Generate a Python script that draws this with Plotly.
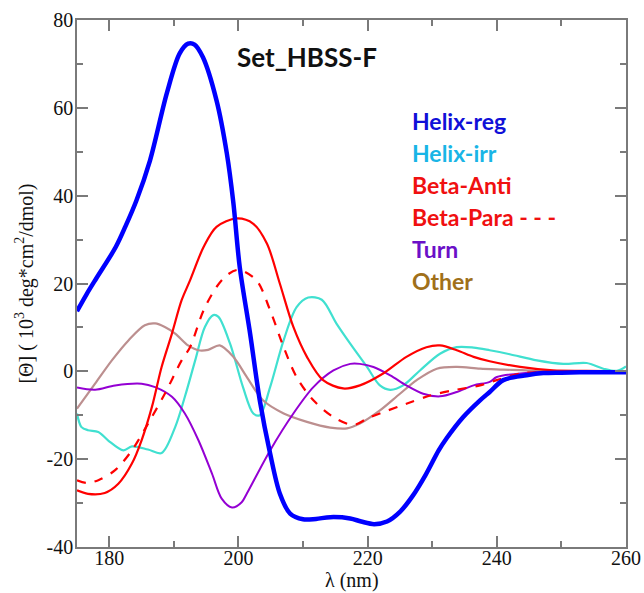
import plotly.graph_objects as go

# Wavelength grids (nm) and mean residue ellipticity (10^3 deg cm^2/dmol) per secondary-structure class
helix_reg_x = [175, 176.5, 178, 181, 182.5, 184.2, 186.3, 188.9, 190.9, 192.2, 193.2, 194.5, 196.6, 198.2,
               199.2, 200.2, 201.8, 203.3, 204.9, 206.4, 208, 210, 212, 214.2, 217.3, 219, 221, 223, 225,
               227, 229, 231, 232.2, 234.8, 237.4, 238.9, 241, 244.6, 247.2, 250, 255, 260]
helix_reg_y = [13.7, 17.6, 21.2, 28.3, 33.0, 38.9, 48.0, 63.3, 72.4, 74.6, 74.4, 71.5, 61.7, 49.6,
               38.5, 23.7, 8.6, -6.6, -18.7, -27.8, -32.4, -33.7, -33.6, -33.2, -33.5, -34.2, -34.8, -34.2, -32.0,
               -28.3, -23.5, -18.0, -15.3, -10.4, -6.6, -4.7, -2.0, -0.9, -0.4, -0.3, -0.2, -0.2]

helix_irr_x = [175, 175.7, 176.7, 178.3, 179.8, 182.2, 183.5, 186, 188.1, 190.2, 191.7, 193.3, 194.8, 196.1,
               196.9, 198.7, 200.7, 202.3, 203.3, 204.9, 207, 209, 210.8, 212.9, 215.2, 217.3, 219.9, 221.9,
               223.5, 225.5, 228.1, 231.2, 233.8, 236.4, 238.9, 242, 246.2, 250.3, 253.9, 256.5, 258.6, 260]
helix_irr_y = [-9.6, -12.7, -13.4, -13.8, -15.7, -18.0, -17.1, -17.8, -18.6, -12.7, -5.8, 2.5, 10.1, 12.8,
               12.4, 6.3, -3.6, -9.6, -10.0, -3.6, 7.1, 14.6, 16.8, 16.3, 10.8, 6.3, 1.0, -3.2,
               -4.2, -3.2, 0.2, 4.0, 5.5, 5.4, 4.8, 3.9, 2.5, 1.7, 1.9, 0.6, 0.1, 1.1]

beta_anti_x = [175, 176.7, 179.3, 181.4, 183.5, 185, 186.6, 188.1, 189.7, 191.2, 192.5, 194.6, 196.6, 199.7,
               202.3, 204.4, 206.4, 208.5, 210.6, 213.1, 216.2, 218.8, 222.4, 226, 229.1, 231.2, 233.8,
               236.4, 238.9, 243.6, 248.7, 253.9, 260]
beta_anti_y = [-27.1, -27.9, -27.7, -25.6, -21.0, -15.7, -8.1, 1.0, 8.6, 16.2, 20.7, 28.3, 32.9, 34.8,
               33.6, 29.1, 20.0, 10.1, 3.3, -2.0, -3.9, -3.2, -0.5, 3.3, 5.5, 5.9, 4.8,
               3.3, 2.3, 1.0, 0.2, 0.1, 0.0]

beta_para_x = [175, 176.5, 178.3, 180.9, 183.5, 186, 188.6, 191.2, 192.5, 194.6, 196.6, 198.3, 200, 202.8,
               204.9, 207, 209, 211.6, 214.7, 217.8, 220, 222.4, 226, 229.7, 233.3, 237.4, 240, 243.6,
               247, 252, 260]
beta_para_y = [-24.8, -25.4, -24.8, -22.5, -18.0, -11.9, -5.1, 2.5, 5.5, 13.9, 19.2, 22.0, 23.1, 20.7,
               13.9, 5.5, -1.3, -6.6, -10.4, -12.2, -10.7, -9.3, -7.4, -5.5, -4.3, -3.2, -2.0, -0.5,
               -0.2, -0.2, 0.0]

turn_x = [175, 177.8, 180.9, 185, 187.1, 189.7, 191.7, 193.8, 195.9, 197.4, 199, 200.5, 201.3, 204.9,
          208.5, 211.6, 214.7, 217.3, 218.8, 220.9, 223.5, 226, 228.6, 231.2, 233.8, 236.4, 238.9,
          240, 246.2, 252, 260]
turn_y = [-3.7, -4.2, -3.2, -2.8, -3.6, -5.8, -9.6, -15.7, -23.3, -29.0, -31.0, -29.8, -27.8, -18.0,
          -9.6, -3.6, 0.2, 1.7, 1.7, 1.0, -0.9, -3.2, -5.1, -5.7, -4.7, -3.2, -2.4,
          -1.3, -0.2, -0.1, 0.0]

other_x = [175, 177.8, 180.4, 183, 185.5, 187.1, 188.6, 190.2, 192.2, 193.8, 195.3, 197.1, 199.2, 201.3,
           203.8, 207, 210.6, 214.2, 216.8, 218.8, 221.9, 225, 227.6, 230.7, 233.8, 237.4, 241, 247,
           253, 260]
other_y = [-8.5, -2.8, 2.5, 7.1, 10.5, 10.9, 10.1, 8.6, 5.9, 4.8, 4.9, 5.9, 3.3, -1.3,
           -6.6, -9.6, -11.5, -12.8, -13.0, -11.9, -8.9, -5.1, -2.0, 0.6, 1.0, 0.6, 0.4, 0.1,
           0.0, 0.0]

# Legend entries drawn as coloured text
legend_labels = ["Helix-reg", "Helix-irr", "Beta-Anti", "Beta-Para - - -", "Turn", "Other"]
legend_colors = ["#1010d8", "#19b5e6", "#f01010", "#f01010", "#6b10c8", "#a0701a"]

x_ticks = [180, 200, 220, 240, 260]
y_ticks = [-40, -20, 0, 20, 40, 60, 80]

fig = go.Figure()

series = [
    (helix_irr_x, helix_irr_y, "#40e0d0", 2.2, "solid"),
    (other_x, other_y, "#bc8f8f", 2.2, "solid"),
    (turn_x, turn_y, "#9400d3", 2.0, "solid"),
    (beta_para_x, beta_para_y, "#ff0000", 2.2, "dash"),
    (beta_anti_x, beta_anti_y, "#ff0000", 2.2, "solid"),
    (helix_reg_x, helix_reg_y, "#0000ff", 4.5, "solid"),
]
for xs, ys, color, width, dash in series:
    fig.add_trace(go.Scatter(
        x=xs, y=ys, mode="lines",
        line=dict(color=color, width=width, dash=dash, shape="spline", smoothing=0.9),
        showlegend=False, hoverinfo="skip",
    ))

axis_color = "#7a7a7a"
serif = "Liberation Serif"
tick_font = dict(family=serif, size=20, color="#111111")

fig.update_xaxes(
    range=[175, 260], tickvals=x_ticks, ticktext=[str(v) for v in x_ticks],
    ticks="inside", ticklen=11, tickwidth=1.5,
    tickcolor=axis_color, showline=True, linecolor=axis_color, linewidth=1.5, mirror="allticks",
    minor=dict(dtick=10, tick0=170, ticks="inside", ticklen=6, tickwidth=1.5, tickcolor=axis_color),
    showgrid=False, zeroline=False, tickfont=tick_font, ticklabelstandoff=-8, automargin=False,
)
fig.update_yaxes(
    range=[-40, 80], tickvals=y_ticks, ticktext=[str(v) for v in y_ticks],
    ticks="inside", ticklen=11, tickwidth=1.5,
    tickcolor=axis_color, showline=True, linecolor=axis_color, linewidth=1.5, mirror="allticks",
    minor=dict(dtick=10, tick0=-40, ticks="inside", ticklen=6, tickwidth=1.5, tickcolor=axis_color),
    showgrid=False, zeroline=False, tickfont=tick_font, ticklabelstandoff=-2, automargin=False,
    title=dict(text="[Θ] ( 10<sup>3</sup> deg*cm<sup>2</sup>/dmol)",
               font=dict(family=serif, size=20, color="#111111"), standoff=8),
)

annotations = [
    dict(text="λ (nm)", x=0.5, y=-0.063, xref="paper", yref="paper",
         xanchor="center", yanchor="middle", showarrow=False,
         font=dict(family=serif, size=20, color="#111111")),
    dict(text="<b>Set_HBSS-F</b>", x=0.287, y=0.930, xref="paper", yref="paper",
         xanchor="left", yanchor="middle", showarrow=False,
         font=dict(family="Lato", size=26, color="#111111")),
]
legend_y0 = 0.808
legend_step = 0.0607
for i, (label, color) in enumerate(zip(legend_labels, legend_colors)):
    annotations.append(dict(
        text=f"<b>{label}</b>", x=0.607, y=legend_y0 - i * legend_step,
        xref="paper", yref="paper", xanchor="left", yanchor="middle", showarrow=False,
        font=dict(family="Lato", size=23, color=color),
    ))

fig.update_layout(
    width=644, height=593,
    margin=dict(l=77, r=18, t=20, b=46),
    paper_bgcolor="white", plot_bgcolor="white",
    annotations=annotations,
)

fig.write_html("out.html")
